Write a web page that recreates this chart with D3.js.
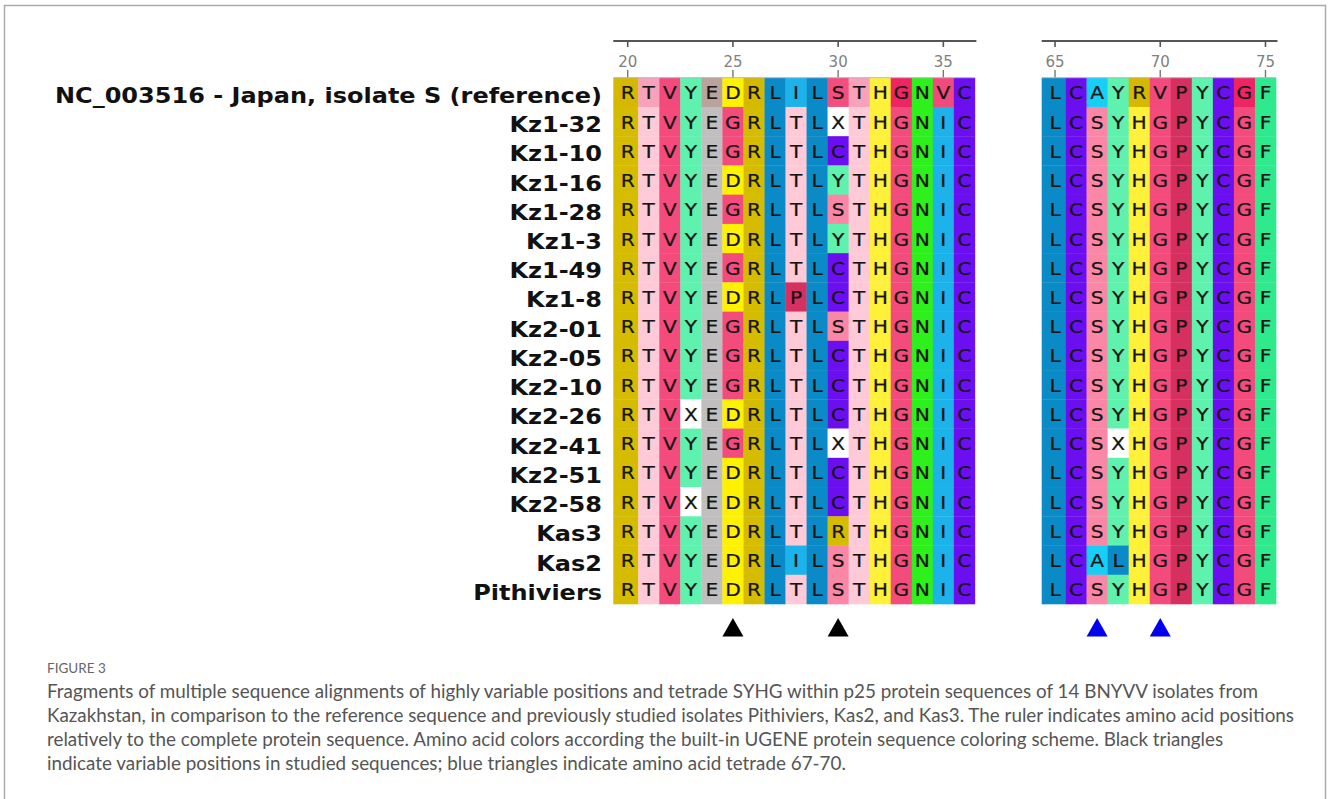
<!DOCTYPE html>
<html><head><meta charset="utf-8">
<script src="https://cdn.jsdelivr.net/npm/d3@7"></script>
<style>body{margin:0;background:#fff;}svg{display:block;}</style>
</head><body>
<svg id="c" width="1328" height="799"></svg>
<script>
// ---------- data ----------
const seqNames = ["NC_003516 - Japan, isolate S (reference)","Kz1-32","Kz1-10","Kz1-16","Kz1-28","Kz1-3","Kz1-49","Kz1-8","Kz2-01","Kz2-05","Kz2-10","Kz2-26","Kz2-41","Kz2-51","Kz2-58","Kas3","Kas2","Pithiviers"];
const leftPositions = [20,21,22,23,24,25,26,27,28,29,30,31,32,33,34,35,36];
const rightPositions = [65,66,67,68,69,70,71,72,73,74,75];
const leftSeqs = [
 "RTVYEDRLILSTHGNVC","RTVYEGRLTLXTHGNIC","RTVYEGRLTLCTHGNIC","RTVYEDRLTLYTHGNIC",
 "RTVYEGRLTLSTHGNIC","RTVYEDRLTLYTHGNIC","RTVYEGRLTLCTHGNIC","RTVYEDRLPLCTHGNIC",
 "RTVYEGRLTLSTHGNIC","RTVYEGRLTLCTHGNIC","RTVYEGRLTLCTHGNIC","RTVXEDRLTLCTHGNIC",
 "RTVYEGRLTLXTHGNIC","RTVYEDRLTLCTHGNIC","RTVXEDRLTLCTHGNIC","RTVYEDRLTLRTHGNIC",
 "RTVYEDRLILSTHGNIC","RTVYEDRLTLSTHGNIC"];
const rightSeqs = [
 "LCAYRVPYCGF","LCSYHGPYCGF","LCSYHGPYCGF","LCSYHGPYCGF","LCSYHGPYCGF","LCSYHGPYCGF",
 "LCSYHGPYCGF","LCSYHGPYCGF","LCSYHGPYCGF","LCSYHGPYCGF","LCSYHGPYCGF","LCSYHGPYCGF",
 "LCSXHGPYCGF","LCSYHGPYCGF","LCSYHGPYCGF","LCSYHGPYCGF","LCALHGPYCGF","LCSYHGPYCGF"];
const leftTicks = [20,25,30,35];
const rightTicks = [65,70,75];
const blackMarks = [25,30];
const blueMarks = [67,70];
const figLabel = "FIGURE 3";
const captionLines = [
 "Fragments of multiple sequence alignments of highly variable positions and tetrade SYHG within p25 protein sequences of 14 BNYVV isolates from",
 "Kazakhstan, in comparison to the reference sequence and previously studied isolates Pithiviers, Kas2, and Kas3. The ruler indicates amino acid positions",
 "relatively to the complete protein sequence. Amino acid colors according the built-in UGENE protein sequence coloring scheme. Black triangles",
 "indicate variable positions in studied sequences; blue triangles indicate amino acid tetrade 67-70."
];

// ---------- styles ----------
const aaColor = {R:"#d5bc00",T:"#ffcad7",V:"#f44a7c",Y:"#5ff2ae",E:"#c0bebe",D:"#fff200",G:"#f44b7d",
 L:"#0a8ac6",I:"#1bb3ea",S:"#fb87a6",H:"#fff03a",N:"#2ef01c",C:"#6c0ff0",X:"#ffffff",P:"#d5305f",
 A:"#17cff4",F:"#2fe98d"};
const refColor = {T:"#f7a2ba",E:"#b9a39c",S:"#f24e7e",G:"#ef2462",V:"#f24a7c",R:"#d4b900"};

const svg = d3.select("#c");
svg.append("rect").attr("x",4.5).attr("y",5.5).attr("width",1321).attr("height",900)
  .attr("fill","none").attr("stroke","#aaa").attr("stroke-width",1.5);

const y = d3.scaleBand().domain(d3.range(seqNames.length)).range([77.7,604]).paddingInner(0).paddingOuter(0);

function block(positions, seqs, x0, x1, extraLeft, ticks){
  const x = d3.scaleBand().domain(positions).range([x0,x1]).padding(0);
  const g = svg.append("g");
  const cells = [];
  seqs.forEach((s,r)=>{ s.split("").forEach((aa,i)=>cells.push({r,i,aa,pos:positions[i]})); });
  g.selectAll("rect.cell").data(cells).join("rect").attr("class","cell")
    .attr("x",d=> d.i===0 ? x(d.pos)-extraLeft : x(d.pos))
    .attr("width",d=> x.bandwidth() + (d.i===0?extraLeft:0) + 0.3)
    .attr("y",d=>y(d.r)).attr("height",y.bandwidth()+0.3)
    .attr("fill",d=> (d.r===0 && refColor[d.aa]) ? refColor[d.aa] : aaColor[d.aa]);
  g.selectAll("text.aa").data(cells).join("text").attr("class","aa")
    .attr("transform",d=>`translate(${x(d.pos)+x.bandwidth()/2},${y(d.r)+y.bandwidth()/2+7}) scale(1.12,1)`)
    .attr("text-anchor","middle").attr("font-family","DejaVu Sans").attr("font-size",18)
    .attr("fill","#141414").attr("stroke","#141414").attr("stroke-width",0.25).text(d=>d.aa);
  // ruler
  const rx0 = x0-extraLeft, rx1 = x1+1.5;
  g.append("line").attr("x1",rx0).attr("x2",rx1).attr("y1",41).attr("y2",41)
    .attr("stroke","#555").attr("stroke-width",1.8);
  const tg = g.selectAll("g.tick").data(ticks).join("g")
    .attr("transform",d=>`translate(${x(d)+x.bandwidth()/2},0)`);
  tg.append("line").attr("y1",41).attr("y2",47).attr("stroke","#555").attr("stroke-width",1.6);
  tg.append("line").attr("y1",70).attr("y2",78).attr("stroke","#777").attr("stroke-width",1.4);
  tg.append("text").attr("y",66.5).attr("text-anchor","middle").attr("font-family","DejaVu Sans")
    .attr("font-size",15).attr("fill","#808080").text(d=>d);
  g.append("line").attr("x1",rx0).attr("x2",x1).attr("y1",77.7).attr("y2",77.7)
    .attr("stroke","#b8b4cc").attr("stroke-width",1);
  return x;
}
const xL = block(leftPositions, leftSeqs, 617.2, 974.9, 3.9, leftTicks);
const xR = block(rightPositions, rightSeqs, 1044.5, 1276, 2.8, rightTicks);

// sequence names (reference rendering is horizontally wider: stretch to match)
const names = svg.append("g").selectAll("text").data(seqNames).join("text")
  .attr("x",602).attr("y",(d,i)=>y(i)+y.bandwidth()/2+10.5)
  .attr("text-anchor","end").attr("font-family","DejaVu Sans").attr("font-weight","bold")
  .attr("font-size",21).attr("fill","#111").text(d=>d);
const nw = names.nodes()[0].getComputedTextLength();
const sx = 547/nw;
names.each(function(){ const t=d3.select(this); const w=this.getComputedTextLength();
  t.attr("textLength", w*sx).attr("lengthAdjust","spacingAndGlyphs"); });

// triangles
function tri(xs, marks, color){
  svg.append("g").selectAll("path").data(marks).join("path")
    .attr("d",d=>{const cx=xs(d)+xs.bandwidth()/2; return `M${cx},618 L${cx+10.5},636.5 L${cx-10.5},636.5 Z`;})
    .attr("fill",color);
}
tri(xL, blackMarks, "#000");
tri(xR, blueMarks, "#0000ee");

// caption
svg.append("text").attr("x",47).attr("y",673).attr("font-family","Lato").attr("font-size",13.5)
  .attr("fill","#666").text(figLabel);
const cap = svg.append("g").selectAll("text").data(captionLines).join("text")
  .attr("x",47).attr("y",(d,i)=>697.5+i*24.3).attr("font-family","Lato").attr("font-size",18.5)
  .attr("fill","#555").text(d=>d);
const w2 = cap.nodes()[1].getComputedTextLength();
const k = 1247/w2;
cap.each(function(){ const w=this.getComputedTextLength();
  d3.select(this).attr("textLength", w*k).attr("lengthAdjust","spacingAndGlyphs"); });
</script>
</body></html>
